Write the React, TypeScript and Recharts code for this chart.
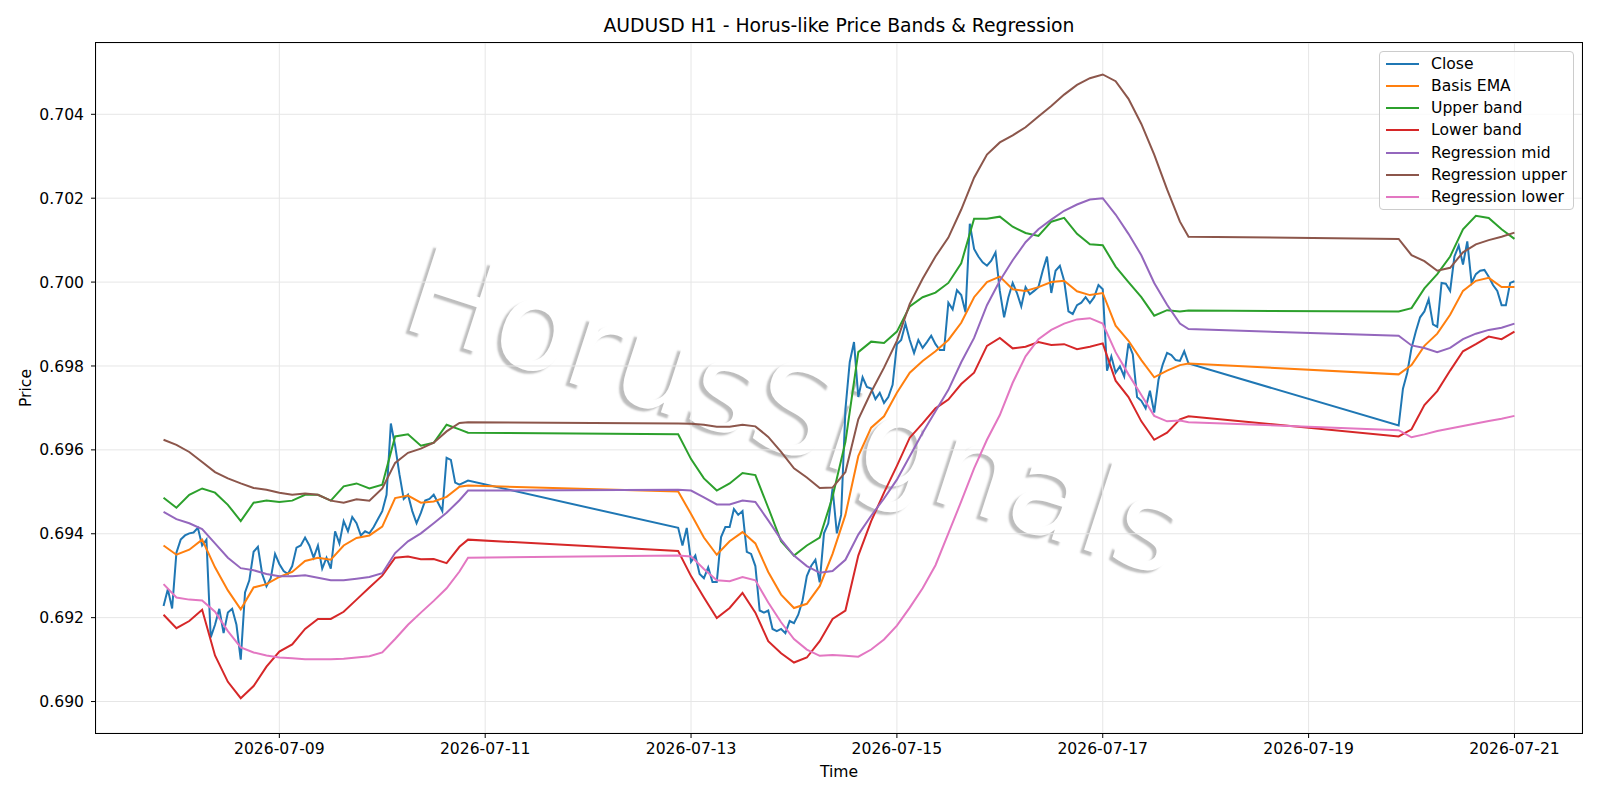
import { LineChart, Line, XAxis, YAxis, CartesianGrid } from "recharts";

// hourly bars, first one at 2026-07-07 21:00 UTC
const T0 = Date.UTC(2026, 6, 7, 21);
const HOUR_MS = 3600000;

// each trading week starts this many hours after T0
const SESSION_START_HOURS = [0, 120, 288];

// close, one value per hour
const CLOSE_W1 = [
  0.69228, 0.69268, 0.69222, 0.69355, 0.69386, 0.69396, 0.69401, 0.69403, 0.69414, 0.69372,
  0.69386, 0.69153, 0.69183, 0.69221, 0.69163, 0.69212, 0.69221, 0.69183, 0.691, 0.6926,
  0.69289, 0.69357, 0.69369, 0.69304, 0.69275, 0.69294, 0.69352, 0.69328, 0.69311, 0.69304,
  0.69323, 0.69367, 0.69372, 0.69391, 0.69372, 0.69343, 0.69372, 0.69317, 0.69343, 0.69317,
  0.69406, 0.69377, 0.6943, 0.69406, 0.6944, 0.69425, 0.69396, 0.69406, 0.69401, 0.69416,
  0.69435, 0.69454, 0.69493, 0.69663, 0.6961, 0.69542, 0.69483, 0.69493, 0.69454, 0.69425,
  0.6945, 0.69479, 0.69483, 0.69493, 0.69474, 0.69454, 0.69581, 0.69576, 0.69522, 0.69517,
  0.69522, 0.69527,
];
const CLOSE_W2 = [
  0.69414, 0.69372, 0.69414, 0.69333, 0.69348, 0.69304, 0.69294, 0.6932, 0.69285, 0.69285,
  0.69392, 0.69416, 0.69416, 0.69459, 0.69445, 0.69454, 0.69357, 0.69352, 0.69323, 0.69217,
  0.69212, 0.69217, 0.69173, 0.69168, 0.69173, 0.69163, 0.69192, 0.69187, 0.69207, 0.69241,
  0.69299, 0.69323, 0.69338, 0.69284, 0.69401, 0.69425, 0.69508, 0.69401, 0.69445, 0.69697,
  0.69809, 0.69857, 0.69726, 0.69773, 0.6975, 0.69746, 0.69721, 0.69736, 0.69712, 0.69726,
  0.69755, 0.69852, 0.69862, 0.69901, 0.69862, 0.69831, 0.69862, 0.69843, 0.69857, 0.69872,
  0.69852, 0.69838, 0.69838, 0.69951, 0.69935, 0.69981, 0.69969, 0.69928, 0.70139, 0.70079,
  0.70061, 0.70047, 0.70039, 0.70051, 0.70071, 0.69979, 0.69916, 0.69964, 0.69998, 0.69974,
  0.69942, 0.69988, 0.69971, 0.69979, 0.69988, 0.70027, 0.70061, 0.69974, 0.70027, 0.70039,
  0.70003, 0.6993, 0.69924, 0.69945, 0.69951, 0.69964, 0.6995, 0.69964, 0.69993, 0.69983,
  0.69789, 0.69823, 0.69784, 0.69799, 0.69775, 0.69854, 0.69828, 0.69726, 0.69717, 0.69699,
  0.69741, 0.69689, 0.69767, 0.69804, 0.69831, 0.69826, 0.69814, 0.69812, 0.69835, 0.69806,
];
const CLOSE_W3 = [
  0.69658, 0.69746, 0.69784, 0.69843, 0.69882, 0.69916, 0.6993, 0.69959, 0.69899, 0.69893,
  0.69998, 0.69996, 0.69979, 0.70061, 0.70087, 0.70042, 0.70097, 0.69998, 0.70019, 0.70027,
  0.70029, 0.70013, 0.69993, 0.69979, 0.69945, 0.69945, 0.69998, 0.70002,
];

// bands read every 3 hours (hours after T0)
const BAND_HOURS = [
  0, 3, 6, 9, 12, 15, 18, 21, 24, 27, 30, 33, 36, 39, 42, 45, 48, 51, 54, 57, 60, 63, 66, 69, 71,
  120, 123, 126, 129, 132, 135, 138, 141, 144, 147, 150, 153, 156, 159, 162, 165, 168, 171, 174,
  177, 180, 183, 186, 189, 192, 195, 198, 201, 204, 207, 210, 213, 216, 219, 222, 225, 228, 231,
  234, 237, 239,
  288, 291, 294, 297, 300, 303, 306, 309, 312, 315,
];

const BASIS = [
  0.69372, 0.6935, 0.69362, 0.69386, 0.6932, 0.69265, 0.6922, 0.69272, 0.6928, 0.69297, 0.69309,
  0.69335, 0.69343, 0.69338, 0.69372, 0.6939, 0.69396, 0.69417, 0.69485, 0.69491, 0.69474,
  0.69477, 0.69488, 0.69512, 0.69515,
  0.69501, 0.69447, 0.69391, 0.6935, 0.69382, 0.69404, 0.69377, 0.69309, 0.69255, 0.69223,
  0.69233, 0.69275, 0.69352, 0.69445, 0.69585, 0.69653, 0.6968, 0.69736, 0.69784, 0.69812,
  0.69835, 0.69862, 0.69903, 0.69964, 0.7, 0.70013, 0.69983, 0.69979, 0.69988, 0.7, 0.70003,
  0.69978, 0.69969, 0.69974, 0.69896, 0.6986, 0.69814, 0.69773, 0.69789, 0.69802, 0.69806,
  0.6978, 0.69802, 0.69848, 0.69877, 0.69922, 0.69979, 0.70003, 0.7001, 0.69988, 0.69988,
];
const UPPER = [
  0.69486, 0.69462, 0.69493, 0.69508, 0.69498, 0.69469, 0.6943, 0.69474, 0.69479, 0.69476,
  0.69479, 0.69493, 0.69493, 0.69479, 0.69513, 0.6952, 0.69508, 0.69517, 0.69632, 0.69637,
  0.6961, 0.69617, 0.6966, 0.69649, 0.69641,
  0.69637, 0.69578, 0.69532, 0.69503, 0.6952, 0.69545, 0.6954, 0.69462, 0.69382, 0.69348,
  0.69372, 0.69391, 0.69488, 0.69619, 0.69833, 0.69858, 0.69855, 0.69882, 0.69942, 0.69964,
  0.69975, 0.69998, 0.70045, 0.70151, 0.70151, 0.70156, 0.70132, 0.70117, 0.7011, 0.70144,
  0.70153, 0.70115, 0.7009, 0.70088, 0.70037, 0.7, 0.69964, 0.6992, 0.69933, 0.6993, 0.69932,
  0.6993, 0.69938, 0.69985, 0.70019, 0.70061, 0.70126, 0.70158, 0.70153, 0.70126, 0.70103,
];
const LOWER = [
  0.69207, 0.69175, 0.69192, 0.69219, 0.6911, 0.69047, 0.69008, 0.69037, 0.69083, 0.69119,
  0.69136, 0.69173, 0.69197, 0.69197, 0.69214, 0.69243, 0.69272, 0.693, 0.69343, 0.69346,
  0.69339, 0.6934, 0.6933, 0.69369, 0.69386,
  0.69359, 0.69299, 0.69248, 0.69199, 0.69223, 0.69259, 0.69212, 0.69144, 0.69115, 0.69093,
  0.69105, 0.69144, 0.69197, 0.69217, 0.69348, 0.6943, 0.69498, 0.69562, 0.69629, 0.69663,
  0.69699, 0.6972, 0.69757, 0.69784, 0.69848, 0.69867, 0.69842, 0.69846, 0.69857, 0.6985,
  0.69852, 0.6984, 0.69846, 0.69854, 0.69765, 0.69726, 0.69668, 0.69624, 0.69641, 0.69673, 0.6968,
  0.69632, 0.69649, 0.69707, 0.6974, 0.69789, 0.69835, 0.69852, 0.6987, 0.69864, 0.69882,
];
const REG_MID = [
  0.69452, 0.69435, 0.69425, 0.69411, 0.69377, 0.69343, 0.69318, 0.69313, 0.69304, 0.69299,
  0.69299, 0.69301, 0.69295, 0.69289, 0.69289, 0.69293, 0.69297, 0.69306, 0.69354, 0.69382,
  0.69401, 0.69425, 0.6945, 0.6948, 0.69503,
  0.69505, 0.69503, 0.69487, 0.6947, 0.6947, 0.69479, 0.69476, 0.69432, 0.69386, 0.69348,
  0.69323, 0.69307, 0.69311, 0.69338, 0.69398, 0.69443, 0.69484, 0.69529, 0.69585, 0.69641,
  0.69692, 0.69743, 0.69809, 0.69867, 0.69945, 0.70003, 0.70052, 0.70095, 0.70126, 0.70149,
  0.7017, 0.70185, 0.70197, 0.702, 0.70161, 0.70115, 0.70064, 0.69998, 0.69946, 0.69901, 0.69888,
  0.69872, 0.69849, 0.69843, 0.69833, 0.69843, 0.69864, 0.69877, 0.69886, 0.69891, 0.69901,
];
const REG_UPPER = [
  0.69624, 0.69612, 0.69595, 0.69571, 0.69547, 0.69532, 0.6952, 0.69509, 0.69505, 0.69498,
  0.69493, 0.69496, 0.69493, 0.69479, 0.69474, 0.69482, 0.69479, 0.69508, 0.69569, 0.69593,
  0.69603, 0.69617, 0.69644, 0.69664, 0.69666,
  0.69663, 0.69662, 0.6966, 0.69655, 0.69655, 0.6966, 0.69656, 0.69631, 0.69595, 0.69556,
  0.69534, 0.69509, 0.6951, 0.69547, 0.69673, 0.69738, 0.69796, 0.6986, 0.69948, 0.70008,
  0.70061, 0.70106, 0.70173, 0.70249, 0.70304, 0.70333, 0.7035, 0.70369, 0.70395, 0.7042,
  0.70447, 0.7047, 0.70486, 0.70495, 0.70479, 0.70437, 0.70377, 0.70304, 0.70221, 0.70144, 0.70108,
  0.70103, 0.70064, 0.7005, 0.70027, 0.70034, 0.70071, 0.7009, 0.701, 0.70108, 0.70118,
];
const REG_LOWER = [
  0.6928, 0.69248, 0.69243, 0.69241, 0.69214, 0.69168, 0.69129, 0.69117, 0.6911, 0.69105,
  0.69103, 0.69101, 0.69101, 0.69101, 0.69102, 0.69105, 0.69108, 0.69117, 0.69149, 0.69183,
  0.69212, 0.6924, 0.6927, 0.6931, 0.69343,
  0.69348, 0.69346, 0.69316, 0.69289, 0.69287, 0.69297, 0.69289, 0.69236, 0.69189, 0.69149,
  0.69124, 0.69109, 0.69111, 0.69109, 0.69107, 0.69124, 0.69148, 0.69181, 0.69224, 0.6927,
  0.69325, 0.69401, 0.69477, 0.69556, 0.69624, 0.69683, 0.6976, 0.69823, 0.69864, 0.69886,
  0.69901, 0.69911, 0.69914, 0.69901, 0.69833, 0.6978, 0.69731, 0.69681, 0.69668, 0.6967, 0.69666,
  0.69647, 0.6963, 0.69637, 0.69645, 0.69651, 0.69657, 0.69663, 0.69669, 0.69674, 0.69681,
];

const DATE_TICKS = [
  "2026-07-09", "2026-07-11", "2026-07-13", "2026-07-15", "2026-07-17", "2026-07-19", "2026-07-21",
];
const PRICE_TICKS = [0.69, 0.692, 0.694, 0.696, 0.698, 0.7, 0.702, 0.704];

const SERIES = [
  { key: "close", name: "Close", color: "#1f77b4" },
  { key: "basis", name: "Basis EMA", color: "#ff7f0e" },
  { key: "upper", name: "Upper band", color: "#2ca02c" },
  { key: "lower", name: "Lower band", color: "#d62728" },
  { key: "regMid", name: "Regression mid", color: "#9467bd" },
  { key: "regUpper", name: "Regression upper", color: "#8c564b" },
  { key: "regLower", name: "Regression lower", color: "#e377c2" },
];

const FONT = "'DejaVu Sans', sans-serif";
const TICK_FONT = 15.6;

const closeData = [CLOSE_W1, CLOSE_W2, CLOSE_W3].flatMap((vals, s) =>
  vals.map((v, i) => ({ t: T0 + (SESSION_START_HOURS[s] + i) * HOUR_MS, close: v }))
);

const bandData = BAND_HOURS.map((h, i) => ({
  t: T0 + h * HOUR_MS,
  basis: BASIS[i],
  upper: UPPER[i],
  lower: LOWER[i],
  regMid: REG_MID[i],
  regUpper: REG_UPPER[i],
  regLower: REG_LOWER[i],
}));

const xTicks = DATE_TICKS.map((d) => Date.parse(d + "T00:00:00Z"));
// matplotlib style 5% padding around the data
const xDomain = [T0 - 15.75 * HOUR_MS, T0 + 330.75 * HOUR_MS];

function Legend() {
  return (
    <div
      style={{
        position: "absolute",
        left: 1379,
        top: 51,
        width: 195,
        height: 159,
        boxSizing: "border-box",
        border: "1px solid #cccccc",
        borderRadius: 4,
        background: "rgba(255,255,255,0.8)",
        fontFamily: FONT,
        fontSize: TICK_FONT,
      }}
    >
      {SERIES.map((s, i) => (
        <div
          key={s.key}
          style={{ position: "absolute", left: 0, top: 11.7 + i * 22.2, height: 0 }}
        >
          <div
            style={{
              position: "absolute",
              left: 6,
              top: -1,
              width: 33,
              height: 2,
              background: s.color,
            }}
          />
          <div
            style={{
              position: "absolute",
              left: 51,
              top: -10,
              lineHeight: "20px",
              whiteSpace: "nowrap",
            }}
          >
            {s.name}
          </div>
        </div>
      ))}
    </div>
  );
}

export default function App() {
  return (
    <div
      style={{
        position: "absolute",
        left: 0,
        top: 0,
        width: 1600,
        height: 800,
        background: "#fff",
        fontFamily: FONT,
        color: "#000",
        overflow: "hidden",
      }}
    >
      {/* watermark, behind the chart */}
      <div
        style={{
          position: "absolute",
          left: 796,
          top: 411,
          transform: "translate(-50%, -50%) rotate(18deg)",
          fontSize: 124,
          fontFamily: FONT,
          color: "#ffffff",
          textShadow: "-3px 4px 2px rgba(0,0,0,0.26)",
          whiteSpace: "nowrap",
        }}
      >
        HorusSignals
      </div>

      <div style={{ position: "absolute", left: 0, top: 0 }}>
        <LineChart width={1600} height={800} margin={{ top: 43, right: 18, bottom: 0, left: 0 }}>
          <CartesianGrid stroke="#e6e6e6" strokeWidth={1} />
          <XAxis
            dataKey="t"
            type="number"
            domain={xDomain}
            allowDataOverflow
            ticks={xTicks}
            tickFormatter={(v) => new Date(v).toISOString().slice(0, 10)}
            height={67}
            axisLine={false}
            tickLine={{ stroke: "#000" }}
            tickSize={5}
            tickMargin={5}
            tick={{ fontSize: TICK_FONT, fill: "#000", fontFamily: FONT }}
          />
          <YAxis
            type="number"
            domain={[0.68925, 0.7057]}
            allowDataOverflow
            ticks={PRICE_TICKS}
            tickFormatter={(v) => v.toFixed(3)}
            width={96}
            axisLine={false}
            tickLine={{ stroke: "#000" }}
            tickSize={5}
            tickMargin={7}
            tick={{ fontSize: TICK_FONT, fill: "#000", fontFamily: FONT }}
          />
          {SERIES.map((s) => (
            <Line
              key={s.key}
              data={s.key === "close" ? closeData : bandData}
              dataKey={s.key}
              name={s.name}
              type="linear"
              stroke={s.color}
              strokeWidth={2}
              dot={false}
              activeDot={false}
              isAnimationActive={false}
            />
          ))}
        </LineChart>
      </div>

      {/* axes frame */}
      <div
        style={{
          position: "absolute",
          left: 95,
          top: 42,
          width: 1488,
          height: 692,
          boxSizing: "border-box",
          border: "1px solid #000",
          pointerEvents: "none",
        }}
      />

      <div
        style={{
          position: "absolute",
          left: 96,
          width: 1486,
          top: 13,
          textAlign: "center",
          fontSize: 18.8,
          lineHeight: "26px",
        }}
      >
        AUDUSD H1 - Horus-like Price Bands &amp; Regression
      </div>
      <div
        style={{
          position: "absolute",
          left: 839,
          top: 772,
          transform: "translate(-50%, -50%)",
          fontSize: TICK_FONT,
        }}
      >
        Time
      </div>
      <div
        style={{
          position: "absolute",
          left: 26,
          top: 388,
          transform: "translate(-50%, -50%) rotate(-90deg)",
          fontSize: TICK_FONT,
        }}
      >
        Price
      </div>
      <Legend />
    </div>
  );
}
